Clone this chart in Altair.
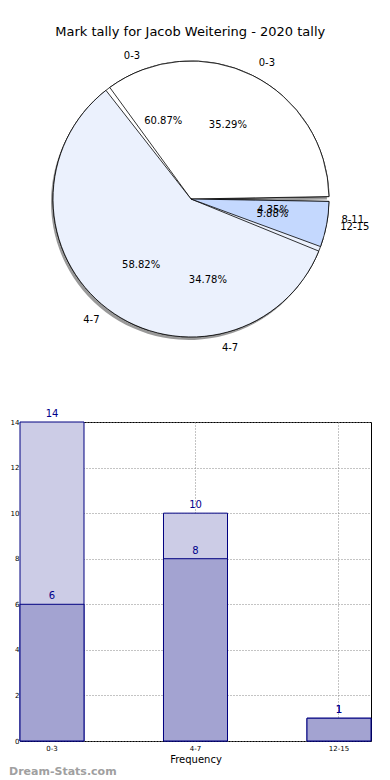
import math
import altair as alt
import pandas as pd

TITLE = "Mark tally for Jacob Weitering - 2020 tally"
WATERMARK = "Dream-Stats.com"

# Pie data (two overlaid pies)
pie_a_labels = ["0-3", "4-7", "12-15"]
pie_a_counts = [6, 10, 1]
pie_b_labels = ["0-3", "4-7", "8-11"]
pie_b_counts = [14, 8, 1]
slice_colors = ["#FFFFFF", "#EBF1FD", "#C4D8FE"]

# Bar data (two overlaid series)
bar_cats = ["0-3", "4-7", "12-15"]
bar_tall = [14, 10, 1]
bar_short = [6, 8, 1]
y_ticks = [0, 2, 4, 6, 8, 10, 12, 14]

FONT = "DejaVu Sans"
R = 138
CX, CY = 171, 148
PAD = 0.035


def pie_df(labels, counts):
    total = sum(counts)
    rows, cum = [], 0
    for i, (lab, c) in enumerate(zip(labels, counts)):
        mid = (cum + c / 2) / total * 2 * math.pi
        cum += c
        right = math.cos(mid) >= 0
        rows.append({
            "idx": i, "label": lab, "count": c,
            "pct": f"{c / total * 100:.2f}%",
            "lab_r": lab if right else "",
            "lab_l": "" if right else lab,
        })
    return pd.DataFrame(rows)


df_a = pie_df(pie_a_labels, pie_a_counts)
df_b = pie_df(pie_b_labels, pie_b_counts)

theta_scale = alt.Scale(domain=[0, 1], range=[math.pi / 2, math.pi / 2 - 2 * math.pi])
color_scale = alt.Scale(domain=[0, 1, 2], range=slice_colors)


def pie_base(df):
    return alt.Chart(df).encode(
        theta=alt.Theta("count:Q", stack="normalize", scale=theta_scale),
        order=alt.Order("idx:Q", sort="ascending"),
    )


def pie_shadow(df):
    return pie_base(df).mark_arc(radius=R, padAngle=PAD, fill="#555555", opacity=0.6).encode(
        x=alt.value(CX - 2), y=alt.value(CY + 3))


def pie_arcs(df):
    return pie_base(df).mark_arc(radius=R, padAngle=PAD, stroke="black", strokeWidth=0.8).encode(
        color=alt.Color("idx:O", scale=color_scale, legend=None),
        x=alt.value(CX), y=alt.value(CY))


def pie_texts(df):
    base = pie_base(df)
    txt = dict(font=FONT, fontSize=10, color="black", baseline="middle")
    return [
        base.mark_text(radius=R * 1.1, align="left", **txt).encode(
            text="lab_r:N", x=alt.value(CX), y=alt.value(CY)),
        base.mark_text(radius=R * 1.1, align="right", **txt).encode(
            text="lab_l:N", x=alt.value(CX), y=alt.value(CY)),
        base.mark_text(radius=R * 0.6, align="center", **txt).encode(
            text="pct:N", x=alt.value(CX), y=alt.value(CY)),
    ]


pie = alt.layer(
    pie_shadow(df_a), pie_arcs(df_b), pie_arcs(df_a),
    *pie_texts(df_b), *pie_texts(df_a)
).properties(width=351, height=330, view=alt.ViewBackground(stroke=None))

df_bar = pd.DataFrame({"cat": bar_cats, "tall": bar_tall, "short": bar_short})

x_enc = alt.X("cat:N", sort=bar_cats,
              scale=alt.Scale(paddingInner=0.554, paddingOuter=0),
              axis=alt.Axis(title="Frequency", titleFont=FONT, titleFontSize=10,
                            titleFontWeight="normal", titleColor="black", titlePadding=3,
                            labelAngle=0, labelFont=FONT, labelFontSize=7, labelColor="black",
                            labelPadding=3, grid=True, gridDash=[1, 2], gridColor="#888888",
                            bandPosition=0.5, domain=False, ticks=False))
y_scale = alt.Scale(domain=[0, 14], nice=False)
y_axis = alt.Axis(title=None, values=y_ticks, labelFont=FONT, labelFontSize=7,
                  labelColor="black", grid=True, gridDash=[1, 2], gridColor="#888888",
                  domain=False, ticks=False, labelPadding=1)

bbase = alt.Chart(df_bar).encode(x=x_enc)
tall = bbase.mark_bar(fill="#CCCCE6", stroke="#000080", strokeWidth=1).encode(
    y=alt.Y("tall:Q", scale=y_scale, axis=y_axis))
short = bbase.mark_bar(fill="#A3A3D1", stroke="#000080", strokeWidth=1).encode(
    y=alt.Y("short:Q", scale=y_scale))
tall_t = bbase.mark_text(font=FONT, fontSize=10, color="#00008B", baseline="bottom", dy=-3).encode(
    y=alt.Y("tall:Q", scale=y_scale), text="tall:Q")
short_t = bbase.mark_text(font=FONT, fontSize=10, color="#00008B", baseline="bottom", dy=-3).encode(
    y=alt.Y("short:Q", scale=y_scale), text="short:Q")
wm = alt.Chart(pd.DataFrame({"t": [WATERMARK]})).mark_text(
    font=FONT, fontSize=11, fontWeight="bold", color="#A0A0A0", align="left", baseline="bottom").encode(
    text="t:N", x=alt.value(-11), y=alt.value(355))

bars = alt.layer(tall, short, tall_t, short_t, wm).properties(
    width=351, height=319, view=alt.ViewBackground(stroke="black", strokeWidth=1))

chart = alt.vconcat(pie, bars, spacing=27).properties(
    title=alt.TitleParams(TITLE, font=FONT, fontSize=13, fontWeight="normal",
                          anchor="middle", color="black", offset=12),
    padding={"left": 0, "top": 17, "right": 5, "bottom": 0},
).configure_view(stroke=None)

chart.save("out.html", embed_options={"renderer": "svg", "actions": False})
